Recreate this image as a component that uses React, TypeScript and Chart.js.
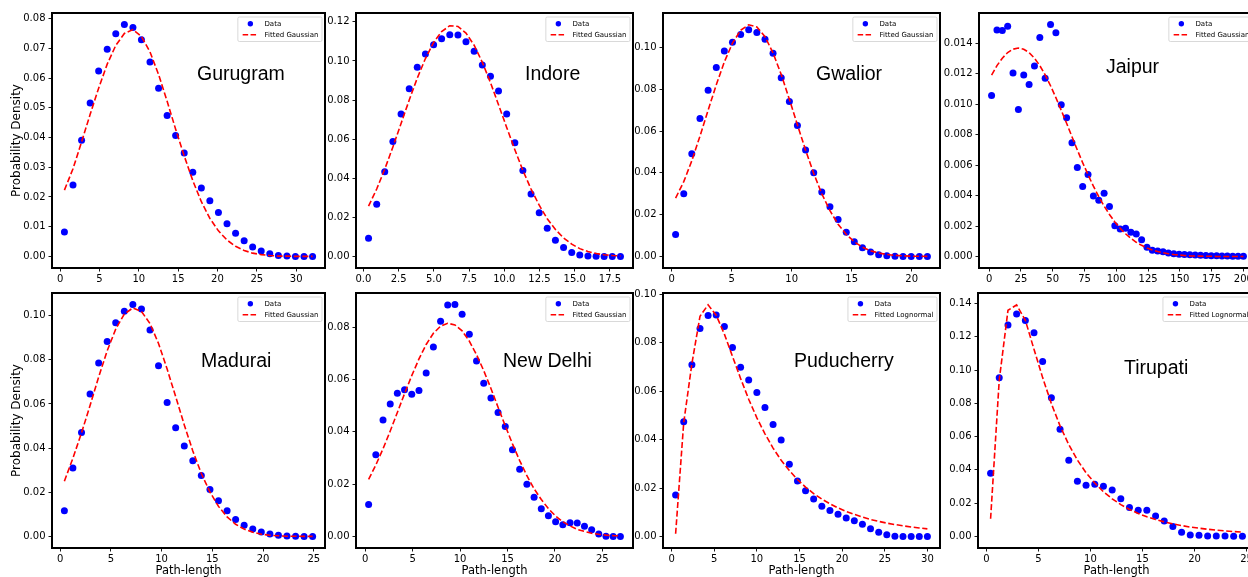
import React, { useEffect, useRef } from "react";
import { Chart, registerables } from "chart.js";

Chart.register(...registerables);

// ---------------- Gurugram ----------------
const GURUGRAM_X = [0.54, 1.63, 2.72, 3.81, 4.89, 5.98, 7.07, 8.16, 9.25, 10.33, 11.42, 12.51, 13.6, 14.68, 15.77, 16.86, 17.95, 19.03, 20.12, 21.21, 22.3, 23.39, 24.47, 25.56, 26.65, 27.74, 28.83, 29.91, 31.0, 32.09];
const GURUGRAM_DATA = [0.0082, 0.024, 0.0391, 0.0516, 0.0624, 0.0697, 0.0749, 0.078, 0.077, 0.0729, 0.0654, 0.0566, 0.0474, 0.0407, 0.0348, 0.0283, 0.023, 0.0187, 0.0148, 0.011, 0.0078, 0.0053, 0.0032, 0.0018, 0.0009, 0.0003, 0.0001, 0, 0, 0];
const GURUGRAM_FIT = [0.0223, 0.0295, 0.0385, 0.0478, 0.0566, 0.0647, 0.071, 0.075, 0.0763, 0.074, 0.0688, 0.0612, 0.0522, 0.0428, 0.0338, 0.0255, 0.0184, 0.0128, 0.0086, 0.0055, 0.0034, 0.002, 0.0011, 0.0006, 0.0003, 0.0001, 0.0001, 0, 0, 0];
const GURUGRAM_X_TICKS = ["0", "5", "10", "15", "20", "25", "30"];
const GURUGRAM_Y_TICKS = ["0.00", "0.01", "0.02", "0.03", "0.04", "0.05", "0.06", "0.07", "0.08"];

// ---------------- Indore ----------------
const INDORE_X = [0.36, 0.94, 1.51, 2.09, 2.67, 3.25, 3.82, 4.4, 4.98, 5.55, 6.13, 6.71, 7.28, 7.86, 8.44, 9.02, 9.59, 10.17, 10.75, 11.32, 11.9, 12.48, 13.05, 13.63, 14.21, 14.79, 15.36, 15.94, 16.52, 17.09, 17.67, 18.25];
const INDORE_DATA = [0.0093, 0.0267, 0.0433, 0.0588, 0.0728, 0.0857, 0.0967, 0.1035, 0.1083, 0.1113, 0.1134, 0.1132, 0.1098, 0.1049, 0.0979, 0.0921, 0.0846, 0.0729, 0.0581, 0.0439, 0.032, 0.0223, 0.0144, 0.0083, 0.0046, 0.002, 0.0008, 0.0002, 0.0001, 0, 0, 0];
const INDORE_FIT = [0.0257, 0.0345, 0.0446, 0.056, 0.068, 0.08, 0.0912, 0.1012, 0.1094, 0.115, 0.118, 0.1176, 0.1142, 0.108, 0.0993, 0.0889, 0.0776, 0.066, 0.0546, 0.044, 0.0345, 0.0262, 0.0193, 0.0138, 0.0095, 0.0063, 0.004, 0.0025, 0.0015, 0.0009, 0.0005, 0.0003];
const INDORE_X_TICKS = ["0.0", "2.5", "5.0", "7.5", "10.0", "12.5", "15.0", "17.5"];
const INDORE_Y_TICKS = ["0.00", "0.02", "0.04", "0.06", "0.08", "0.10", "0.12"];

// ---------------- Gwalior ----------------
const GWALIOR_X = [0.33, 1.01, 1.68, 2.36, 3.04, 3.72, 4.39, 5.07, 5.75, 6.42, 7.1, 7.78, 8.45, 9.13, 9.81, 10.48, 11.16, 11.84, 12.51, 13.19, 13.87, 14.55, 15.22, 15.9, 16.58, 17.25, 17.93, 18.61, 19.28, 19.96, 20.64, 21.31];
const GWALIOR_DATA = [0.0105, 0.03, 0.0491, 0.066, 0.0796, 0.0904, 0.0984, 0.1026, 0.1062, 0.1085, 0.1072, 0.104, 0.0973, 0.0856, 0.0742, 0.0627, 0.051, 0.04, 0.0308, 0.0238, 0.0177, 0.0116, 0.007, 0.0041, 0.0021, 0.0008, 0.0003, 0.0001, 0, 0, 0, 0];
const GWALIOR_FIT = [0.0279, 0.0358, 0.0458, 0.0576, 0.07, 0.0822, 0.0931, 0.1021, 0.1083, 0.1109, 0.1099, 0.1052, 0.0974, 0.0871, 0.0752, 0.063, 0.0509, 0.0397, 0.03, 0.0219, 0.0154, 0.0105, 0.007, 0.0044, 0.0027, 0.0016, 0.0009, 0.0005, 0.0003, 0.0001, 0.0001, 0];
const GWALIOR_X_TICKS = ["0", "5", "10", "15", "20"];
const GWALIOR_Y_TICKS = ["0.00", "0.02", "0.04", "0.06", "0.08", "0.10"];

// ---------------- Jaipur ----------------
const JAIPUR_X = [1.9, 6.12, 10.33, 14.55, 18.76, 22.98, 27.19, 31.41, 35.62, 39.84, 44.05, 48.27, 52.48, 56.7, 60.91, 65.13, 69.34, 73.56, 77.77, 81.99, 86.2, 90.42, 94.63, 98.85, 103.06, 107.28, 111.49, 115.71, 119.92, 124.14, 128.35, 132.57, 136.78, 141.0, 145.21, 149.43, 153.64, 157.86, 162.07, 166.29, 170.5, 174.72, 178.93, 183.15, 187.36, 191.58, 195.79, 200.0];
const JAIPUR_DATA = [0.01058, 0.01489, 0.01485, 0.01513, 0.01206, 0.00965, 0.01193, 0.0113, 0.01252, 0.01439, 0.01171, 0.01524, 0.0147, 0.00997, 0.00912, 0.00747, 0.00584, 0.00459, 0.00538, 0.00398, 0.0037, 0.00416, 0.00329, 0.00202, 0.00181, 0.00185, 0.00159, 0.00148, 0.00109, 0.00061, 0.00041, 0.00035, 0.0003, 0.00022, 0.00017, 0.00015, 0.00013, 0.00011, 0.00009, 0.00007, 0.00006, 0.00005, 0.00004, 0.00003, 0.00003, 0.00002, 0.00002, 0.00002];
const JAIPUR_FIT = [0.01192, 0.01254, 0.01303, 0.0134, 0.01362, 0.0137, 0.01362, 0.0134, 0.01303, 0.01254, 0.01193, 0.01122, 0.01044, 0.0096, 0.00875, 0.00787, 0.007, 0.00616, 0.00537, 0.00462, 0.00393, 0.00331, 0.00276, 0.00227, 0.00185, 0.00149, 0.00119, 0.00093, 0.00073, 0.00056, 0.00043, 0.00032, 0.00024, 0.00018, 0.00013, 0.00009, 0.00006, 0.00004, 0.00003, 0.00002, 0.00001, 0.00001, 0, 0, 0, 0, 0, 0];
const JAIPUR_X_TICKS = ["0", "25", "50", "75", "100", "125", "150", "175", "200"];
const JAIPUR_Y_TICKS = ["0.000", "0.002", "0.004", "0.006", "0.008", "0.010", "0.012", "0.014"];

// ---------------- Madurai ----------------
const MADURAI_X = [0.42, 1.26, 2.11, 2.95, 3.8, 4.64, 5.48, 6.33, 7.17, 8.02, 8.86, 9.7, 10.55, 11.39, 12.24, 13.08, 13.92, 14.77, 15.61, 16.46, 17.3, 18.14, 18.99, 19.83, 20.68, 21.52, 22.36, 23.21, 24.05, 24.89];
const MADURAI_DATA = [0.0116, 0.031, 0.0471, 0.0645, 0.0786, 0.0883, 0.0968, 0.102, 0.105, 0.103, 0.0935, 0.0773, 0.0607, 0.0492, 0.041, 0.0343, 0.0276, 0.0212, 0.0161, 0.0116, 0.0077, 0.0051, 0.0033, 0.002, 0.0011, 0.0005, 0.0002, 0.0001, 0, 0];
const MADURAI_FIT = [0.025, 0.0354, 0.0469, 0.0593, 0.0722, 0.0841, 0.0939, 0.1007, 0.1035, 0.1019, 0.0964, 0.0874, 0.0758, 0.0633, 0.0505, 0.0387, 0.0285, 0.0201, 0.0136, 0.0088, 0.0055, 0.0033, 0.0019, 0.001, 0.0005, 0.0003, 0.0001, 0.0001, 0, 0];
const MADURAI_X_TICKS = ["0", "5", "10", "15", "20", "25"];
const MADURAI_Y_TICKS = ["0.00", "0.02", "0.04", "0.06", "0.08", "0.10"];

// ---------------- New Delhi ----------------
const NEWDELHI_X = [0.35, 1.11, 1.87, 2.63, 3.38, 4.14, 4.9, 5.66, 6.42, 7.18, 7.94, 8.69, 9.45, 10.21, 10.97, 11.73, 12.49, 13.25, 14.0, 14.76, 15.52, 16.28, 17.04, 17.8, 18.56, 19.31, 20.07, 20.83, 21.59, 22.35, 23.11, 23.87, 24.62, 25.38, 26.14, 26.9];
const NEWDELHI_DATA = [0.0122, 0.0312, 0.0445, 0.0506, 0.0548, 0.0561, 0.0544, 0.0558, 0.0625, 0.0724, 0.0823, 0.0885, 0.0887, 0.085, 0.0773, 0.0671, 0.0586, 0.0529, 0.0474, 0.042, 0.0331, 0.0257, 0.0199, 0.015, 0.0106, 0.0079, 0.0056, 0.0045, 0.0052, 0.0051, 0.0039, 0.0025, 0.0009, 0.0001, 0, 0];
const NEWDELHI_FIT = [0.0218, 0.0273, 0.0335, 0.0403, 0.0474, 0.0546, 0.0615, 0.0679, 0.0734, 0.0777, 0.0804, 0.0815, 0.0809, 0.0786, 0.0747, 0.0695, 0.0634, 0.0566, 0.0494, 0.0423, 0.0354, 0.029, 0.0232, 0.0182, 0.0141, 0.0106, 0.0078, 0.0056, 0.004, 0.0027, 0.0019, 0.0012, 0.0008, 0.0005, 0.0003, 0.0002];
const NEWDELHI_X_TICKS = ["0", "5", "10", "15", "20", "25"];
const NEWDELHI_Y_TICKS = ["0.00", "0.02", "0.04", "0.06", "0.08"];

// ---------------- Puducherry ----------------
const PUDUCHERRY_X = [0.47, 1.42, 2.38, 3.33, 4.28, 5.23, 6.19, 7.14, 8.09, 9.04, 10.0, 10.95, 11.9, 12.85, 13.81, 14.76, 15.71, 16.66, 17.62, 18.57, 19.52, 20.48, 21.43, 22.38, 23.33, 24.29, 25.24, 26.19, 27.14, 28.1, 29.05, 30.0];
const PUDUCHERRY_DATA = [0.0171, 0.0474, 0.0709, 0.0859, 0.0913, 0.0915, 0.0868, 0.0781, 0.0699, 0.0646, 0.0595, 0.0533, 0.0463, 0.0398, 0.0298, 0.0229, 0.0189, 0.0155, 0.0125, 0.0107, 0.0092, 0.0076, 0.0065, 0.005, 0.0032, 0.0017, 0.0007, 0.0001, 0, 0, 0, 0];
const PUDUCHERRY_FIT = [0.0011, 0.047, 0.0714, 0.091, 0.0957, 0.0914, 0.0836, 0.0744, 0.0653, 0.0567, 0.049, 0.0424, 0.0365, 0.0315, 0.0272, 0.0235, 0.0204, 0.0177, 0.0154, 0.0135, 0.0118, 0.0103, 0.0091, 0.008, 0.007, 0.0062, 0.0055, 0.0049, 0.0044, 0.0039, 0.0035, 0.0031];
const PUDUCHERRY_X_TICKS = ["0", "5", "10", "15", "20", "25", "30"];
const PUDUCHERRY_Y_TICKS = ["0.00", "0.02", "0.04", "0.06", "0.08", "0.10"];

// ---------------- Tirupati ----------------
const TIRUPATI_X = [0.41, 1.24, 2.08, 2.91, 3.75, 4.58, 5.41, 6.25, 7.08, 7.92, 8.75, 9.58, 10.42, 11.25, 12.09, 12.92, 13.75, 14.59, 15.42, 16.26, 17.09, 17.92, 18.76, 19.59, 20.43, 21.26, 22.09, 22.93, 23.76, 24.6];
const TIRUPATI_DATA = [0.038, 0.0954, 0.1271, 0.1338, 0.1299, 0.1225, 0.1052, 0.0834, 0.0645, 0.0458, 0.0331, 0.0307, 0.0313, 0.0301, 0.0279, 0.0227, 0.0173, 0.0157, 0.0157, 0.0123, 0.0092, 0.006, 0.0024, 0.0008, 0.0006, 0.0002, 0.0002, 0.0002, 0.0001, 0];
const TIRUPATI_FIT = [0.0106, 0.094, 0.136, 0.1392, 0.13, 0.1125, 0.0955, 0.0798, 0.0665, 0.0552, 0.0459, 0.0383, 0.0321, 0.0268, 0.0226, 0.0191, 0.0162, 0.0138, 0.0118, 0.0101, 0.0087, 0.0075, 0.0065, 0.0056, 0.0049, 0.0043, 0.0037, 0.0033, 0.0029, 0.0026];
const TIRUPATI_X_TICKS = ["0", "5", "10", "15", "20", "25"];
const TIRUPATI_Y_TICKS = ["0.00", "0.02", "0.04", "0.06", "0.08", "0.10", "0.12", "0.14"];

const GAUSS = "Fitted Gaussian";
const LOGN = "Fitted Lognormal";

type Panel = {
  city: string;
  fitLabel: string;
  x: number[];
  data: number[];
  fit: number[];
  xTicks: string[];
  yTicks: string[];
  xRange: [number, number];
  yRange: [number, number];
  frame: [number, number, number, number]; // left, top, right, bottom (page px)
  cityPos: [number, number]; // left, baseline (page px)
  yTitle: boolean;
  xTitle: boolean;
};

const PANELS: Panel[] = [
  { city: "Gurugram", fitLabel: GAUSS, x: GURUGRAM_X, data: GURUGRAM_DATA, fit: GURUGRAM_FIT, xTicks: GURUGRAM_X_TICKS, yTicks: GURUGRAM_Y_TICKS, xRange: [-1.04, 33.67], yRange: [-0.0039, 0.0819], frame: [52, 13, 325, 268], cityPos: [197, 80], yTitle: true, xTitle: false },
  { city: "Indore", fitLabel: GAUSS, x: INDORE_X, data: INDORE_DATA, fit: INDORE_FIT, xTicks: INDORE_X_TICKS, yTicks: INDORE_Y_TICKS, xRange: [-0.53, 19.14], yRange: [-0.0059, 0.1245], frame: [356, 13, 633, 268], cityPos: [525, 80], yTitle: false, xTitle: false },
  { city: "Gwalior", fitLabel: GAUSS, x: GWALIOR_X, data: GWALIOR_DATA, fit: GWALIOR_FIT, xTicks: GWALIOR_X_TICKS, yTicks: GWALIOR_Y_TICKS, xRange: [-0.72, 22.36], yRange: [-0.00555, 0.11655], frame: [663, 13, 940, 268], cityPos: [816, 80], yTitle: false, xTitle: false },
  { city: "Jaipur", fitLabel: GAUSS, x: JAIPUR_X, data: JAIPUR_DATA, fit: JAIPUR_FIT, xTicks: JAIPUR_X_TICKS, yTicks: JAIPUR_Y_TICKS, xRange: [-8.0, 209.9], yRange: [-0.00076, 0.016], frame: [979, 13, 1256, 268], cityPos: [1106, 73], yTitle: false, xTitle: false },
  { city: "Madurai", fitLabel: GAUSS, x: MADURAI_X, data: MADURAI_DATA, fit: MADURAI_FIT, xTicks: MADURAI_X_TICKS, yTicks: MADURAI_Y_TICKS, xRange: [-0.8, 26.11], yRange: [-0.00525, 0.11025], frame: [52, 293, 325, 548], cityPos: [201, 367], yTitle: true, xTitle: true },
  { city: "New Delhi", fitLabel: GAUSS, x: NEWDELHI_X, data: NEWDELHI_DATA, fit: NEWDELHI_FIT, xTicks: NEWDELHI_X_TICKS, yTicks: NEWDELHI_Y_TICKS, xRange: [-0.98, 28.23], yRange: [-0.00444, 0.0931], frame: [356, 293, 633, 548], cityPos: [503, 367], yTitle: false, xTitle: true },
  { city: "Puducherry", fitLabel: LOGN, x: PUDUCHERRY_X, data: PUDUCHERRY_DATA, fit: PUDUCHERRY_FIT, xTicks: PUDUCHERRY_X_TICKS, yTicks: PUDUCHERRY_Y_TICKS, xRange: [-1.01, 31.48], yRange: [-0.00479, 0.1006], frame: [663, 293, 940, 548], cityPos: [794, 367], yTitle: false, xTitle: true },
  { city: "Tirupati", fitLabel: LOGN, x: TIRUPATI_X, data: TIRUPATI_DATA, fit: TIRUPATI_FIT, xTicks: TIRUPATI_X_TICKS, yTicks: TIRUPATI_Y_TICKS, xRange: [-0.8, 25.81], yRange: [-0.007, 0.1464], frame: [978, 293, 1255, 548], cityPos: [1124, 374], yTitle: false, xTitle: true },
];

const PAD_L = 52;
const PAD_T = 13;
const PAD_R = 14;
const PAD_B = 30;

const decorPlugin = {
  id: "decor",
  afterDatasetsDraw(chart: any, _args: any, opts: any) {
    const { ctx, chartArea: ca } = chart;
    ctx.save();
    // frame
    ctx.setLineDash([]);
    ctx.strokeStyle = "#000";
    ctx.lineWidth = 2;
    ctx.strokeRect(ca.left, ca.top, ca.right - ca.left, ca.bottom - ca.top);
    // city label
    ctx.fillStyle = "#000";
    ctx.font = '19.5px "Liberation Sans", Arial, sans-serif';
    ctx.textAlign = "left";
    ctx.textBaseline = "alphabetic";
    ctx.fillText(opts.city, opts.cityX, opts.cityY);
    // legend
    const ds = chart.data.datasets;
    ctx.font = '7px "DejaVu Sans", sans-serif';
    const tw = Math.max(...ds.map((d: any) => ctx.measureText(d.label).width));
    const bw = 26.6 + tw + 3.5;
    const bh = 24.5;
    const bx = ca.right - 3 - bw;
    const by = ca.top + 4;
    ctx.beginPath();
    if ((ctx as any).roundRect) (ctx as any).roundRect(bx, by, bw, bh, 1.5);
    else ctx.rect(bx, by, bw, bh);
    ctx.fillStyle = "rgba(255,255,255,0.85)";
    ctx.fill();
    ctx.strokeStyle = "#cfcfcf";
    ctx.lineWidth = 0.8;
    ctx.stroke();
    const y1 = by + 6.7;
    const y2 = by + 17.7;
    ctx.beginPath();
    ctx.arc(bx + 12.5, y1, 2.7, 0, Math.PI * 2);
    ctx.fillStyle = ds[0].backgroundColor;
    ctx.fill();
    ctx.beginPath();
    ctx.setLineDash([5.5, 2.4]);
    ctx.strokeStyle = ds[1].borderColor;
    ctx.lineWidth = 1.5;
    ctx.moveTo(bx + 4.8, y2);
    ctx.lineTo(bx + 20.2, y2);
    ctx.stroke();
    ctx.setLineDash([]);
    ctx.fillStyle = "#000";
    ctx.textBaseline = "middle";
    ctx.fillText(ds[0].label, bx + 26.6, y1);
    ctx.fillText(ds[1].label, bx + 26.6, y2);
    ctx.restore();
  },
};

function PanelChart({ p }: { p: Panel }) {
  const ref = useRef<HTMLCanvasElement>(null);
  const [fl, ft, fr, fb] = p.frame;
  const w = fr - fl + PAD_L + PAD_R;
  const h = fb - ft + PAD_T + PAD_B;
  const cLeft = fl - PAD_L;
  const cTop = ft - PAD_T;

  useEffect(() => {
    const tickFont = { family: '"DejaVu Sans", sans-serif', size: 10 };
    const gridOpts = {
      display: true,
      drawOnChartArea: false,
      drawTicks: true,
      tickLength: 3.5,
      color: "#000",
      lineWidth: 0.9,
    };
    const chart = new Chart(ref.current as HTMLCanvasElement, {
      type: "scatter",
      data: {
        datasets: [
          {
            label: "Data",
            data: p.x.map((x, i) => ({ x, y: p.data[i] })),
            backgroundColor: "#0000ff",
            borderColor: "#0000ff",
            pointRadius: 3.5,
            pointBorderWidth: 0,
            showLine: false,
            order: 2,
          },
          {
            label: p.fitLabel,
            data: p.x.map((x, i) => ({ x, y: p.fit[i] })),
            borderColor: "#ff0000",
            backgroundColor: "#ff0000",
            borderWidth: 1.6,
            borderDash: [6, 2.6],
            pointRadius: 0,
            showLine: true,
            fill: false,
            tension: 0,
            order: 1,
          },
        ],
      },
      options: {
        animation: false,
        responsive: false,
        maintainAspectRatio: false,
        devicePixelRatio: 1,
        events: [],
        layout: { padding: { left: 0, top: PAD_T, right: PAD_R, bottom: 0 } },
        plugins: {
          legend: { display: false },
          tooltip: { enabled: false },
          decor: { city: p.city, cityX: p.cityPos[0] - cLeft, cityY: p.cityPos[1] - cTop },
        } as any,
        scales: {
          x: {
            type: "linear",
            min: p.xRange[0],
            max: p.xRange[1],
            afterBuildTicks: (scale: any) => {
              scale.ticks = p.xTicks.map((t) => ({ value: parseFloat(t) }));
            },
            afterFit: (scale: any) => {
              scale.height = PAD_B;
            },
            grid: gridOpts,
            border: { display: false },
            ticks: {
              autoSkip: false,
              maxRotation: 0,
              padding: 2,
              color: "#000",
              font: tickFont,
              callback: (_v: any, i: number) => p.xTicks[i],
            },
            title: {
              display: p.xTitle,
              text: "Path-length",
              color: "#000",
              font: { family: '"DejaVu Sans", sans-serif', size: 11.5 },
              padding: { top: 0, bottom: 0 },
            },
          },
          y: {
            type: "linear",
            min: p.yRange[0],
            max: p.yRange[1],
            afterBuildTicks: (scale: any) => {
              scale.ticks = p.yTicks.map((t) => ({ value: parseFloat(t) }));
            },
            afterFit: (scale: any) => {
              scale.width = PAD_L;
            },
            grid: gridOpts,
            border: { display: false },
            ticks: {
              autoSkip: false,
              padding: 3,
              color: "#000",
              font: tickFont,
              callback: (_v: any, i: number) => p.yTicks[i],
            },
            title: {
              display: p.yTitle,
              text: "Probability Density",
              color: "#000",
              font: { family: '"DejaVu Sans", sans-serif', size: 12 },
              padding: { top: 9.5, bottom: 0 },
            },
          },
        },
      } as any,
      plugins: [decorPlugin as any],
    });
    return () => chart.destroy();
  }, []);

  return (
    <canvas
      ref={ref}
      width={w}
      height={h}
      style={{ position: "absolute", left: cLeft, top: cTop, width: w, height: h }}
    />
  );
}

export default function App() {
  return (
    <div
      style={{
        position: "absolute",
        left: 0,
        top: 0,
        width: 1248,
        height: 577,
        overflow: "hidden",
        background: "#ffffff",
      }}
    >
      {PANELS.map((p) => (
        <PanelChart key={p.city} p={p} />
      ))}
    </div>
  );
}
